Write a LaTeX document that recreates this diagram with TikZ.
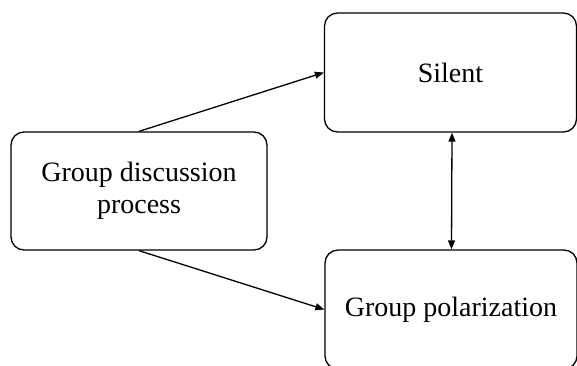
\documentclass[tikz,border=0pt]{standalone}
\usepackage{fontspec}
\setmainfont{Liberation Serif}
\usetikzlibrary{arrows.meta}
\begin{document}
\begin{tikzpicture}[x=1pt,y=-1pt,
  box/.style={draw=black,line width=1.3pt,rounded corners=13pt,fill=white,
    inner sep=0pt,align=center,font=\fontsize{28}{32}\selectfont},
  conn/.style={line width=1.3pt,-{Triangle[length=9pt,width=7pt]}},
  dconn/.style={line width=1.3pt,{Triangle[length=9pt,width=7pt]}-{Triangle[length=9pt,width=7pt]}}]
\useasboundingbox (0,0) rectangle (577,365);
\clip (0,0) rectangle (577,365);
\fill[white] (0,0) rectangle (577,365);
\node[box,minimum width=256pt,minimum height=118pt] (gdp) at (139,191) {Group discussion\\process};
\node[box,minimum width=252pt,minimum height=119pt] (sil) at (450.5,72.5) {Silent};
\node[box,minimum width=252pt,minimum height=119pt] (gpol) at (451,309.5) {Group polarization};
\draw[conn] (gdp.north) -- (sil.west);
\draw[conn] (gdp.south) -- (gpol.west);
\draw[dconn] ([xshift=1.5pt]sil.south) -- ([xshift=1pt]sil.south |- gpol.north);
\end{tikzpicture}
\end{document}
